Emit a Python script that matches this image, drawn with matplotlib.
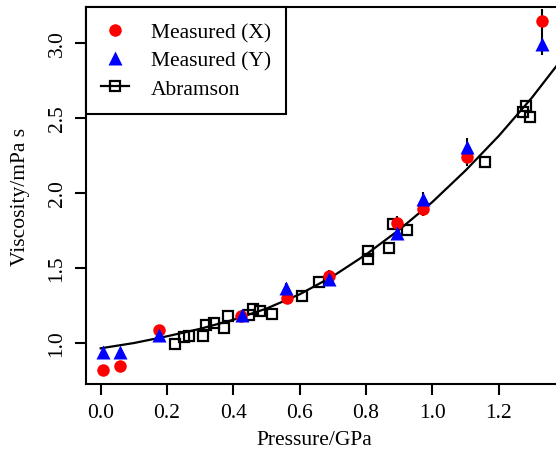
import numpy as np
import matplotlib.pyplot as plt
from matplotlib.lines import Line2D

plt.rcParams['font.family'] = ['Liberation Serif', 'DejaVu Serif']
plt.rcParams['font.size'] = 15.5

# measured points (pressure GPa, viscosity mPa s)
p_x = [0.007, 0.058, 0.177, 0.423, 0.561, 0.688, 0.893, 0.973, 1.105, 1.332]
visc_x = [0.82, 0.847, 1.087, 1.18, 1.30, 1.449, 1.80, 1.893, 2.238, 3.145]
p_y = [0.008, 0.058, 0.177, 0.425, 0.559, 0.688, 0.893, 0.973, 1.105, 1.332]
visc_y = [0.94, 0.94, 1.055, 1.19, 1.365, 1.427, 1.733, 1.96, 2.31, 2.993]

# Abramson data
p_ab = [0.224, 0.252, 0.266, 0.307, 0.318, 0.342, 0.372, 0.383, 0.448, 0.458,
        0.480, 0.518, 0.606, 0.658, 0.807, 0.807, 0.870, 0.880, 0.925, 1.159,
        1.273, 1.283, 1.295]
visc_ab = [0.993, 1.038, 1.049, 1.049, 1.12, 1.133, 1.098, 1.182, 1.187, 1.227,
           1.215, 1.195, 1.315, 1.409, 1.615, 1.56, 1.631, 1.793, 1.753, 2.209,
           2.542, 2.578, 2.505]

# fitted curve
p_fit = [0.0, 0.1, 0.2, 0.3, 0.4, 0.5, 0.6, 0.7, 0.8, 0.9, 1.0, 1.1, 1.2, 1.3, 1.4]
visc_fit = [0.965, 1.000, 1.045, 1.095, 1.155, 1.230, 1.325, 1.445, 1.590, 1.755,
            1.940, 2.150, 2.380, 2.635, 2.920]

err_frac = 0.025

fig = plt.figure(figsize=(5.56, 4.52), dpi=100)
ax = fig.add_axes([86/556, 67/452, 480/556, 377/452])

ax.plot(p_fit, visc_fit, '-', c='black', lw=1.6, zorder=2)
ax.plot(p_ab, visc_ab, 's', mfc='none', mec='black', mew=1.6, ms=7.5, zorder=3)

ax.errorbar(p_x, visc_x, yerr=np.array(visc_x)*err_frac, fmt='none', ecolor='black', elinewidth=1.5, zorder=3)
ax.errorbar(p_y, visc_y, yerr=np.array(visc_y)*err_frac, fmt='none', ecolor='black', elinewidth=1.5, zorder=3)
ax.plot(p_x, visc_x, 'o', c='red', ms=9, mec='none', zorder=4)
ax.plot(p_y, visc_y, '^', c='blue', ms=9.5, mec='none', zorder=5)

ax.set_xlim(-0.0443, 1.403)
ax.set_ylim(0.727, 3.24)
ax.set_xticks([0.0, 0.2, 0.4, 0.6, 0.8, 1.0, 1.2])
ax.set_xticklabels(['0.0', '0.2', '0.4', '0.6', '0.8', '1.0', '1.2'])
ax.set_yticks([1.0, 1.5, 2.0, 2.5, 3.0])
ax.set_yticklabels(['1.0', '1.5', '2.0', '2.5', '3.0'], rotation=90, va='center')
ax.tick_params(direction='out', length=8, width=1.5, pad=6)
for s in ax.spines.values():
    s.set_linewidth(1.5)

ax.set_xlabel('Pressure/GPa')
ax.set_ylabel('Viscosity/mPa s')
ax.xaxis.set_label_coords((314-86)/480, -0.122)
ax.yaxis.set_label_coords(-(86-30)/480, 0.5)

handles = [Line2D([], [], ls='none', marker='o', c='red', mec='none', ms=9),
           Line2D([], [], ls='none', marker='^', c='blue', mec='none', ms=9.5),
           Line2D([], [], ls='-', c='black', lw=1.6, marker='s', mfc='none', mec='black', mew=1.6, ms=7)]
leg = ax.legend(handles, ['Measured (X)', 'Measured (Y)', 'Abramson'], loc='upper left',
                borderaxespad=0, fancybox=False, framealpha=1, edgecolor='black',
                labelspacing=0.38, handlelength=1.3, handletextpad=1.0, borderpad=0.7)
leg.get_frame().set_linewidth(1.5)

fig.savefig('out.png', dpi=100)
